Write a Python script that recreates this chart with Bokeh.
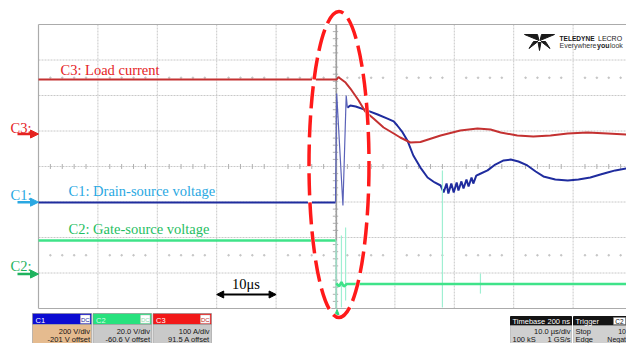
import numpy as np
from bokeh.plotting import figure
from bokeh.models import Range1d, Arrow, NormalHead, Label
from bokeh.core.properties import value
from bokeh.embed import file_html
from bokeh.resources import INLINE

# ---------------- data ----------------
# time in microseconds (10 us/div, trigger at 0)
c1_time = [-50.0, 0.0, 0.2, 1.25, 1.8, 2.0, 2.5, 3.4, 5.4, 7.1, 8.75, 9.8, 10.4, 11.3, 12.1,
           13.1, 14.3, 15.5, 16.7, 17.7, 18.2, 18.7, 19.0, 19.5, 19.9, 20.4, 20.7, 21.2, 21.55,
           22.05, 22.4, 22.9, 23.2, 23.7, 24.1, 25.6, 26.9, 28.3, 29.5, 30.8, 32.3, 33.7, 35.0,
           37.0, 39.1, 40.9, 42.9, 44.6, 45.8, 47.1, 49.0]
c1_volt = [-1.8, -1.8, 612, -18.7, 601, 533, 545, 539, 516, 494, 471, 455, 432, 393, 348,
           263, 195, 139, 111, 94, 55, 105, 49, 105, 55, 111, 66, 117, 77,
           128, 88, 139, 105, 150, 156, 179, 212, 235, 240, 229, 207, 173, 145,
           128, 122, 128, 139, 156, 167, 179, 190]

c2_time = [-50.0, 0.0, 0.15, 0.6, 1.0, 1.4, 1.9, 49.0]
c2_volt = [18.9, 18.9, -5.3, -7.0, -4.5, -7.0, -5.6, -5.6]
c2_spike_time = [0.1, 1.0, 1.7, 18.0, 24.4]
c2_spike_high = [18.9, 21.7, 26.2, 58.3, 0.3]
c2_spike_low = [-19.4, -18.8, -14.9, -18.8, -11.0]

c3_time = [-50.0, 0.2, 0.5, 0.8, 1.7, 2.5, 3.9, 5.0, 6.4, 8.1, 9.8, 10.9, 12.6, 14.3, 17.7,
           21.0, 23.9, 26.1, 27.8, 30.6, 33.3, 36.2, 39.1, 42.4, 45.8, 49.0]
c3_amp = [153.6, 153.6, 160.6, 156.4, 145.1, 128.2, 94.4, 63.4, 43.7, 18.4, 1.5, -9.8, -23.9,
          -22.5, -4.2, 9.9, 15.5, 12.7, 4.3, -4.2, -7.0, -4.2, 1.5, 4.3, 1.5, -1.4]

channel_names = ["C1", "C2", "C3"]
channel_scale = [200.0, 20.0, 100.0]      # units per division
channel_offset = [-201.0, -60.6, 91.5]    # offset (units)
scale_labels = ["200 V/div", "20.0 V/div", "100 A/div"]
offset_labels = ["-201 V offset", "-60.6 V offset", "91.5 A offset"]
trace_labels = ["C1: Drain-source voltage", "C2: Gate-source voltage", "C3: Load current"]
timebase_us_per_div = 10.0

# ---------------- geometry ----------------
W, H = 626, 343
GRID_L, GRID_T = 38.0, 24.0
DIV_W, DIV_H = 59.4, 35.5
T_DIV = timebase_us_per_div


def tx(px):
    return (px - GRID_L) / DIV_W * T_DIV - 5 * T_DIV


def dy(py):
    return 4.0 - (py - GRID_T) / DIV_H


p = figure(width=W, height=H, x_range=Range1d(tx(0), tx(W)), y_range=Range1d(dy(H), dy(0)),
           output_backend="svg", toolbar_location=None, x_axis_location=None,
           y_axis_location=None, min_border=0, outline_line_color=None,
           background_fill_color="white", border_fill_color="white")
p.grid.visible = False

extra = {}
for name, sc, off in zip(channel_names, channel_scale, channel_offset):
    extra[name] = Range1d(dy(H) * sc - off, dy(0) * sc - off)
p.extra_y_ranges = extra

# ---------------- graticule ----------------
GRID_C = "#C8C8C8"
vt = [k * T_DIV for k in range(-4, 6)]
p.segment(x0=vt, y0=[-4] * len(vt), x1=vt, y1=[4] * len(vt), line_color=GRID_C,
          line_width=1, line_dash="2 1")
hd = list(range(-3, 4))
p.segment(x0=[-50] * len(hd), y0=hd, x1=[50] * len(hd), y1=hd, line_color=GRID_C,
          line_width=1, line_dash="2 1")
p.multi_line(xs=[[-50, -50], [-50, 60], [-50, 60]], ys=[[-4, 4], [4, 4], [-4, -4]],
             line_color="#ABABAB", line_width=1.2)

minor_t = [t for t in np.arange(-48, 50, 2.0) if abs(t % 10) > 1e-6]
p.segment(x0=minor_t, y0=[-0.07] * len(minor_t), x1=minor_t, y1=[0.07] * len(minor_t),
          line_color="#B0B0B0", line_width=1)
minor_d = [d for d in np.arange(-3.8, 4.0, 0.2) if abs(d - round(d)) > 1e-6]
p.segment(x0=[-0.45] * len(minor_d), y0=minor_d, x1=[0.45] * len(minor_d), y1=minor_d,
          line_color="#B0B0B0", line_width=1)
p.segment(x0=[0.15], y0=[-4], x1=[0.15], y1=[4], line_color="#A0A0A0", line_width=1.5)
for yy in (2.5, -2.5):
    p.scatter(minor_t, [yy] * len(minor_t), size=1.6, color="#C4C4C4", marker="circle")

# ---------------- traces ----------------
C1_COL, C2_COL, C3_COL = "#1F2C9E", "#3FE389", "#C43131"


def split(ts, vs, ta, tb):
    ts = np.asarray(ts, float)
    vs = np.asarray(vs, float)
    pre = ts <= ta
    mid = (ts >= ta) & (ts <= tb)
    post = ts >= tb
    return (ts[pre], vs[pre]), (ts[mid], vs[mid]), (ts[post], vs[post])


(a1, b1), (m1t, m1v), (p1t, p1v) = split(c1_time, c1_volt, 0.0, 2.0)
p.multi_line(xs=[list(a1), list(p1t)], ys=[list(b1), list(p1v)], y_range_name="C1",
             line_color=C1_COL, line_width=2)
p.line(m1t, m1v, y_range_name="C1", line_color="#5A62B8", line_width=1.2)

p.line(c3_time, c3_amp, y_range_name="C3", line_color=C3_COL, line_width=2)

(a2, b2), (m2t, m2v), (p2t, p2v) = split(c2_time, c2_volt, 0.0, 0.15)
p.segment(x0=c2_spike_time, y0=c2_spike_low, x1=c2_spike_time, y1=c2_spike_high,
          y_range_name="C2", line_color="#9FEFD2", line_width=1.2)
p.multi_line(xs=[list(a2), list(p2t)], ys=[list(b2), list(p2v)], y_range_name="C2",
             line_color=C2_COL, line_width=2.6)

# trigger marker
p.patch([tx(334.5), tx(338.5), tx(336.5)], [dy(314), dy(314), dy(309)], color="#2BD67B")

# ---------------- annotations ----------------
SERIF = "Liberation Serif"
SANS = "Liberation Sans"


def label(px, base_py, text, size, color, font=SANS, align="left", style="normal"):
    # place text by its baseline (pixel row), using a middle anchor
    mid_py = base_py - 0.32 * size
    p.add_layout(Label(x=tx(px), y=dy(mid_py), text=text, text_font=font,
                       text_font_size=f"{size}px", text_color=color, text_align=align,
                       text_baseline="middle", text_font_style=style))


label(60, 74, trace_labels[2], 14.5, "#E5231F", SERIF)
label(68, 195, trace_labels[0], 14.5, "#2AA8E2", SERIF)
label(68, 233, trace_labels[1], 14.5, "#1FBE62", SERIF)

left_cols = {"C1": "#2AA8E2", "C2": "#1FB35E", "C3": "#E5231F"}
left_base = {"C1": 199, "C2": 270, "C3": 132}
for name in channel_names:
    col = left_cols[name]
    label(10, left_base[name], name + ":", 14.5, col, SERIF)
    p.add_layout(Arrow(end=NormalHead(size=8, fill_color=col, line_color=col),
                       x_start=tx(17), x_end=tx(38), y_start=0, y_end=0,
                       y_range_name=name, line_color=col, line_width=2.5))

# 10 us scale marker
p.add_layout(Arrow(start=NormalHead(size=7, fill_color="black", line_color="black"),
                   end=NormalHead(size=7, fill_color="black", line_color="black"),
                   x_start=-2 * T_DIV, x_end=-1 * T_DIV, y_start=dy(294), y_end=dy(294),
                   line_color="black", line_width=2))
label(245.5, 288, "10\u03bcs", 14.5, "black", SERIF, align="center")

# highlighted region (dashed ellipse)
ell = dict(x=[tx(338.5)], y=[dy(164)], width=[60 / DIV_W * T_DIV], height=[306 / DIV_H],
           fill_color=None)
p.ellipse(**ell, line_color="white", line_width=4)
p.ellipse(**ell, line_color="#FF1A1A", line_width=3.5, line_dash="22 7")

# logo
logo = [
    [(524, 34), (537, 34), (538.5, 40)],
    [(554, 34), (541, 34), (539.5, 40)],
    [(537.5, 41), (533, 41), (528.5, 48)],
    [(540.5, 41), (545, 41), (549.5, 48)],
    [(537.6, 42), (540.4, 42), (539, 50)],
]
p.patches(xs=[[tx(a) for a, b in tri] for tri in logo],
          ys=[[dy(b) for a, b in tri] for tri in logo], color="#1A1A1A")
label(559, 40, "TELEDYNE", 6.6, "#1A1A1A", style="bold")
label(597.5, 40, "LECRO", 7, "#1A1A1A")
label(559, 47.5, "Everywhere", 7, "#333333")
label(596.5, 47.5, "you", 7, "#1A1A1A", style="bold")
label(609.5, 47.5, "look", 7, "#333333")

# ---------------- channel info boxes ----------------
box_left = [32, 92.5, 152.5]
box_right = [91, 151, 211]
head_fill = ["#0B0BD2", "#27E27E", "#F21818"]
head_text = ["white", "#D8FFE8", "white"]
dc_text = ["#2020A0", "#8AD8AE", "#C02020"]
body_fill = ["#E5BB8F", "#C9C9C9", "#C9C9C9"]
for i, name in enumerate(channel_names):
    l, r = box_left[i], box_right[i]
    p.quad(left=[tx(l)], right=[tx(r)], top=[dy(313)], bottom=[dy(324)],
           fill_color=head_fill[i], line_color="#888888", line_width=0.6)
    p.quad(left=[tx(l)], right=[tx(r)], top=[dy(324)], bottom=[dy(345)],
           fill_color=body_fill[i], line_color="#999999", line_width=0.6)
    p.quad(left=[tx(r - 11)], right=[tx(r - 1.5)], top=[dy(314.5)], bottom=[dy(322.8)],
           fill_color="white", line_color="#BBBBBB", line_width=0.5)
    label(l + 3, 322, name, 7.5, head_text[i])
    label(r - 6.2, 321.5, "DC", 6, dc_text[i], align="center")
    label(r - 1.5, 333, scale_labels[i], 7.5, "#151515", align="right")
    label(r - 1.5, 341.5, offset_labels[i], 7.5, "#151515", align="right")

# timebase / trigger boxes
p.quad(left=[tx(510), tx(573)], right=[tx(571), tx(632)], top=[dy(316)] * 2,
       bottom=[dy(325)] * 2, fill_color="#141414", line_color="#141414")
p.quad(left=[tx(510), tx(573)], right=[tx(571), tx(632)], top=[dy(325)] * 2,
       bottom=[dy(345)] * 2, fill_color="#D0D0D0", line_color="#AAAAAA", line_width=0.6)
p.quad(left=[tx(613)], right=[tx(625)], top=[dy(317)], bottom=[dy(324)],
       fill_color="white", line_color="#888888", line_width=0.5)
label(512, 323.5, "Timebase", 7.5, "white")
label(569.5, 323.5, "200 ns", 7.5, "white", align="right")
label(570, 333, "10.0 \u00b5s/div", 7.5, "#151515", align="right")
label(512, 341.5, "100 kS", 7.5, "#151515")
label(570, 341.5, "1 GS/s", 7.5, "#151515", align="right")
label(575, 323.5, "Trigger", 7.5, "white")
label(619, 322.8, "C2", 6.5, "#111111", align="center")
label(575, 333, "Stop", 7.5, "#151515")
label(625.5, 333, "10", 7, "#151515", align="right")
label(575, 341.5, "Edge", 7.5, "#151515")
label(625.5, 341.5, "Negat", 7, "#151515", align="right")

open("out.html", "w").write(file_html(p, INLINE))
